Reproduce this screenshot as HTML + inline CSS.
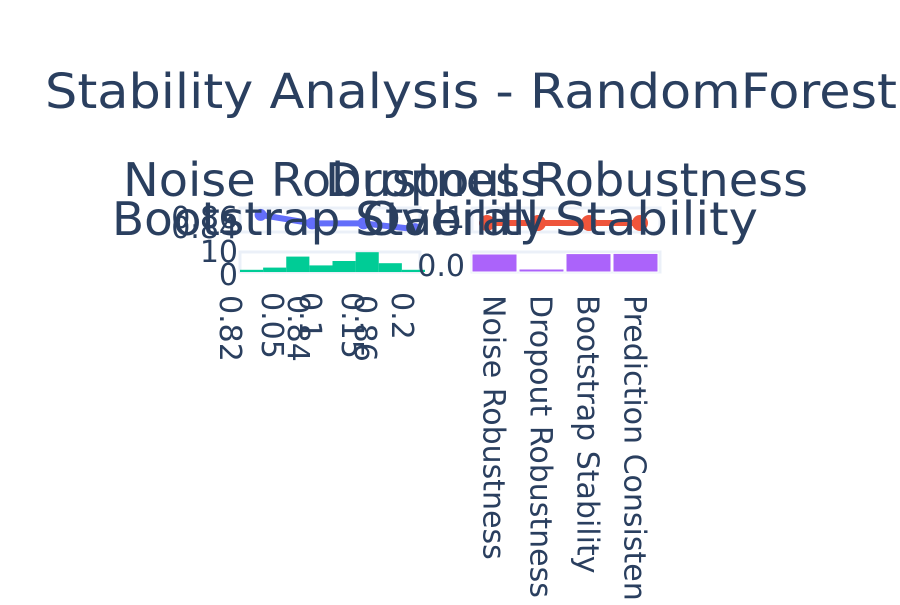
<!DOCTYPE html>
<html><head><meta charset="utf-8"><style>
body{margin:0;background:#fff;}
svg{font-family:"DejaVu Sans","Liberation Sans",sans-serif;fill:#2a3f5f;}
</style></head><body>
<svg id="chart" width="900" height="600">
<text x="45" y="108" font-size="48" textLength="852" lengthAdjust="spacingAndGlyphs">Stability Analysis - RandomForest</text>
<g id="grid"></g>
<g id="marks"></g>
<g id="labels"></g>
<text x="123" y="196" font-size="46" textLength="422" lengthAdjust="spacingAndGlyphs">Noise Robustness</text>
<text x="325" y="196" font-size="46" textLength="483" lengthAdjust="spacingAndGlyphs">Dropout Robustness</text>
<text x="112" y="235" font-size="46" textLength="435" lengthAdjust="spacingAndGlyphs">Bootstrap Stability</text>
<text x="362" y="235" font-size="46" textLength="396" lengthAdjust="spacingAndGlyphs">Overall Stability</text>
</svg>
<script>
const noiseLevels=[0.05,0.1,0.15,0.2];
const noiseScores=[0.86,0.845,0.845,0.835];
const dropoutLevels=[0.1,0.2,0.3,0.4];
const dropoutScores=[0.85,0.85,0.85,0.85];
const histCounts=[1,2,7,3,5,9,4,1];
const metricNames=["Noise Robustness","Dropout Robustness","Bootstrap Stability","Prediction Consistency"];
const metricValues=[0.9,0.15,0.92,0.93];
const ns="http://www.w3.org/2000/svg";
const marks=document.getElementById('marks');
const labels=document.getElementById('labels');
const grid=document.getElementById('grid');
function mk(tag,attrs,parent){const e=document.createElementNS(ns,tag);for(const k in attrs)e.setAttribute(k,attrs[k]);(parent||marks).appendChild(e);return e;}
[[240,208,420,232],[472,208,660,232],[240,252,420,272],[472,252,660,272]].forEach(p=>{
 const r=mk('rect',{x:p[0],y:p[1],width:p[2]-p[0],height:p[3]-p[1],fill:'none',stroke:'#ebf0f8','stroke-width':3},grid);
 
 
});
const nx=v=>240+(v-0.03)/(0.2-0.03)*175, ny=v=>232-(v-0.83)/(0.035)*20;
const pts=noiseLevels.map((v,i)=>nx(v)+','+ny(noiseScores[i])).join(' ');
const nl=mk('polyline',{points:pts,fill:'none',stroke:'#636efa','stroke-width':6});


noiseLevels.forEach((v,i)=>{const c=mk('circle',{cx:nx(v),cy:ny(noiseScores[i]),r:6,fill:'#636efa'});
 
 });
const dx=v=>487+(v-0.1)/0.3*153, dy=v=>232-(v-0.8)/0.1*18;
const dl=mk('polyline',{points:dropoutLevels.map((v,i)=>dx(v)+','+dy(dropoutScores[i])).join(' '),fill:'none',stroke:'#ef553b','stroke-width':6});


dropoutLevels.forEach((v,i)=>{const c=mk('circle',{cx:dx(v),cy:dy(dropoutScores[i]),r:8,fill:'#ef553b'});
 
 });
const bw=185/histCounts.length, hy=v=>272-v*2.2;
histCounts.forEach((c,i)=>{const r=mk('rect',{x:240+i*bw,y:hy(c),width:bw,height:272-hy(c),fill:'#00cc96'});
 
 });
const mw=47, my=v=>272-v*20;
metricValues.forEach((v,i)=>{const r=mk('rect',{x:472+i*mw,y:my(v),width:mw-2,height:272-my(v),fill:'#ab63fa',stroke:'#fff','stroke-width':1});
 
 
 const t=mk('text',{x:0,y:0,'font-size':30,transform:`translate(${472+i*mw+mw/2-12},295) rotate(90)`},labels);
 t.textContent=metricNames[i];
 
 });
const ticks=[["0.82",220,295],["0.05",262,292],["0.84",288,295],["0.1",300,292],["0.15",342,292],["0.86",355,295],["0.2",392,292]];
ticks.forEach(t=>{const e=mk('text',{x:0,y:0,'font-size':30,transform:`translate(${t[1]},${t[2]}) rotate(90)`},labels);
 e.textContent=t[0];
 
 });
const yt=[["0.86",238,228],["0.84",238,238],["10",238,262],["0",238,285],["0.0",465,276],["1",465,228]];
yt.forEach(t=>{const e=mk('text',{x:t[1],y:t[2],'font-size':30,'text-anchor':'end'},labels);
 e.textContent=t[0];
 
 });
</script>
</body></html>
